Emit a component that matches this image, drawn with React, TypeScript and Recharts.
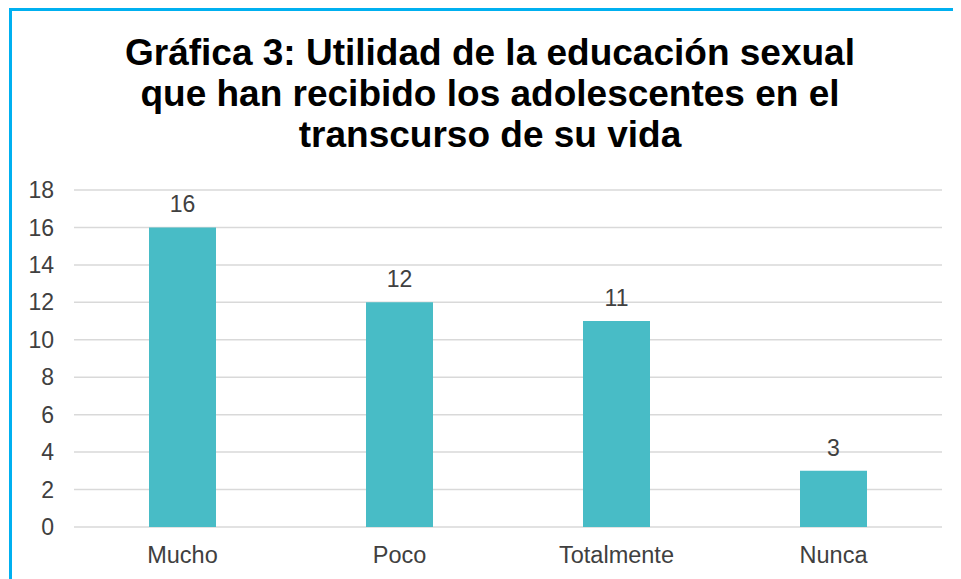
import React from "react";
import { BarChart, Bar, XAxis, YAxis, CartesianGrid, LabelList } from "recharts";

const categories = ["Mucho", "Poco", "Totalmente", "Nunca"];
const values = [16, 12, 11, 3];
const yTicks = [0, 2, 4, 6, 8, 10, 12, 14, 16, 18];
const titleLines = [
  "Gráfica 3: Utilidad de la educación sexual",
  "que han recibido los adolescentes en el",
  "transcurso de su vida",
];

const data = categories.map((c, i) => ({ name: c, value: values[i] }));

const FONT = "'Liberation Sans', Arial, sans-serif";

export default function App() {
  return (
    <div style={{ position: "relative", width: 953, height: 571, background: "#fff", fontFamily: FONT }}>
      <div style={{ position: "absolute", left: 1, top: 0, width: 952, height: 3, background: "#00B0F0" }} />
      <div style={{ position: "absolute", left: 1, top: 0, width: 3, height: 571, background: "#00B0F0" }} />
      <div
        style={{
          position: "absolute",
          left: 82,
          top: 24,
          width: 800,
          textAlign: "center",
          fontSize: 37,
          fontWeight: "bold",
          lineHeight: "41px",
          color: "#000",
        }}
      >
        {titleLines.map((l, i) => (
          <div key={i}>{l}</div>
        ))}
      </div>
      <div style={{ position: "absolute", left: 0, top: 0 }}>
        <BarChart
          width={953}
          height={571}
          data={data}
          margin={{ top: 182, right: 19, bottom: 22, left: 0 }}
          barCategoryGap={0}
        >
          <CartesianGrid vertical={false} stroke="#D9D9D9" strokeWidth={1.5} />
          <XAxis
            dataKey="name"
            axisLine={false}
            tickLine={false}
            tickMargin={13}
            height={30}
            tick={{ fill: "#404040", fontSize: 23.5, fontFamily: FONT }}
          />
          <YAxis
            width={66}
            domain={[0, 18]}
            ticks={yTicks}
            axisLine={false}
            tickLine={false}
            tickMargin={14}
            interval={0}
            tick={{ fill: "#404040", fontSize: 23, fontFamily: FONT }}
          />
          <Bar dataKey="value" fill="#48BCC6" barSize={67} isAnimationActive={false}>
            <LabelList
              dataKey="value"
              position="top"
              offset={15}
              fill="#404040"
              fontSize={23}
              fontFamily={FONT}
            />
          </Bar>
        </BarChart>
      </div>
    </div>
  );
}
